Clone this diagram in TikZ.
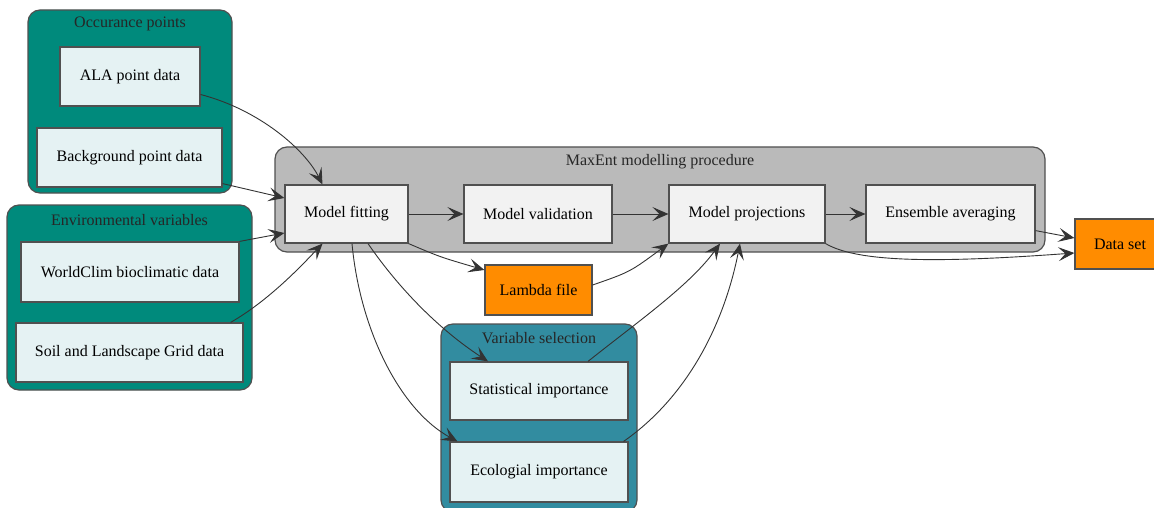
\documentclass[tikz,border=0pt]{standalone}
\usepackage{fontspec}
\setmainfont{Liberation Serif}
\usetikzlibrary{arrows.meta,calc}
\definecolor{tealc}{RGB}{0,138,124}
\definecolor{bluec}{RGB}{50,140,160}
\definecolor{grayc}{RGB}{186,186,186}
\definecolor{orangec}{RGB}{255,140,0}
\definecolor{lightc}{RGB}{229,242,243}
\definecolor{boxg}{RGB}{242,242,242}
\definecolor{edgec}{RGB}{51,51,51}
\definecolor{bordc}{RGB}{80,80,80}
\begin{document}
\begin{tikzpicture}[x=1pt,y=-1pt,
  every node/.style={font=\fontsize{16}{18}\selectfont},
  cluster/.style={draw=bordc, line width=1.2pt, rounded corners=12pt, inner sep=0pt},
  tealcl/.style={cluster, fill=tealc},
  bluecl/.style={cluster, fill=bluec},
  graycl/.style={cluster, fill=grayc},
  inbox/.style={draw=bordc, line width=1.2pt, fill=lightc, inner sep=0pt},
  procbox/.style={draw=bordc, line width=1.2pt, fill=boxg, inner sep=0pt},
  outbox/.style={draw=bordc, line width=1.2pt, fill=orangec, inner sep=0pt},
  clabel/.style={text=black!85},
  conn/.style={draw=edgec, line width=0.9pt, -{Stealth[length=16pt,width=14pt,inset=7pt]}}
]
\useasboundingbox (0,0) rectangle (1154,508);
% clusters
\node[tealcl, minimum width=204, minimum height=183] (occ) at (130,101.5) {};
\node[clabel] (occl) at (130,24) {Occurance points};
\node[tealcl, minimum width=245, minimum height=185] (env) at (129.5,297.5) {};
\node[clabel] (envl) at (129.5,220) {Environmental variables};
\node[graycl, minimum width=770, minimum height=105] (maxent) at (660,199.5) {};
\node[clabel] (maxl) at (660,162) {MaxEnt modelling procedure};
\node[bluecl, minimum width=196, minimum height=188] (vsel) at (539,418) {};
\node[clabel] (vsell) at (539,338) {Variable selection};
% nodes
\node[inbox, minimum width=140, minimum height=59] (ala) at (130,76.5) {ALA point data};
\node[inbox, minimum width=185, minimum height=59] (bg) at (129.5,157.5) {Background point data};
\node[inbox, minimum width=218, minimum height=60] (wc) at (130,272) {WorldClim bioclimatic data};
\node[inbox, minimum width=227, minimum height=59] (soil) at (129.5,352.5) {Soil and Landscape Grid data};
\node[procbox, minimum width=123, minimum height=58] (fit) at (346.5,214) {Model fitting};
\node[procbox, minimum width=148, minimum height=58] (val) at (538,214) {Model validation};
\node[procbox, minimum width=156, minimum height=58] (proj) at (747,214) {Model projections};
\node[procbox, minimum width=169, minimum height=58] (ens) at (950.5,214) {Ensemble averaging};
\node[outbox, minimum width=107, minimum height=50] (lambda) at (538.5,290) {Lambda file};
\node[outbox, minimum width=90, minimum height=50] (data) at (1120,244) {Data set};
\node[inbox, minimum width=178, minimum height=58] (stat) at (539,391) {Statistical importance};
\node[inbox, minimum width=178, minimum height=60] (eco) at (539,472) {Ecologial importance};
% connectors
\draw[conn] ($(ala.east)+(0,18)$) .. controls (260,110) and (305,150) .. ($(fit.north)+(-24,0)$);
\draw[conn] ($(bg.south east)+(0,-4)$) -- ($(fit.west)+(0,-16)$);
\draw[conn] (wc.north east) -- ($(fit.west)+(0,19)$);
\draw[conn] ($(soil.north east)+(-13,0)$) .. controls (270,300) and (305,262) .. ($(fit.south)+(-24,0)$);
\draw[conn] (fit) -- (val);
\draw[conn] (val) -- (proj);
\draw[conn] (proj) -- (ens);
\draw[conn] (fit.south east) .. controls (440,257) .. ($(lambda.west)+(0,-20)$);
\draw[conn] ($(lambda.east)+(0,-5)$) .. controls (630,272) .. (proj.south west);
\draw[conn] ($(fit.south)+(21.5,0)$) .. controls (400,290) and (440,330) .. ($(stat.north)+(-51,0)$);
\draw[conn] ($(fit.south)+(5.5,0)$) .. controls (360,330) and (400,410) .. ($(eco.north west)+(8,0)$);
\draw[conn] ($(stat.north)+(49,0)$) .. controls (640,320) and (690,285) .. ($(proj.south)+(-27,0)$);
\draw[conn] ($(eco.north east)+(-5,0)$) .. controls (690,395) and (725,320) .. ($(proj.south)+(-7,0)$);
\draw[conn] ($(ens.south east)+(0,-13)$) -- ($(data.west)+(0,-6)$);
\draw[conn] (proj.south east) .. controls (860,264) and (950,262) .. ($(data.west)+(0,9)$);
\end{tikzpicture}
\end{document}
